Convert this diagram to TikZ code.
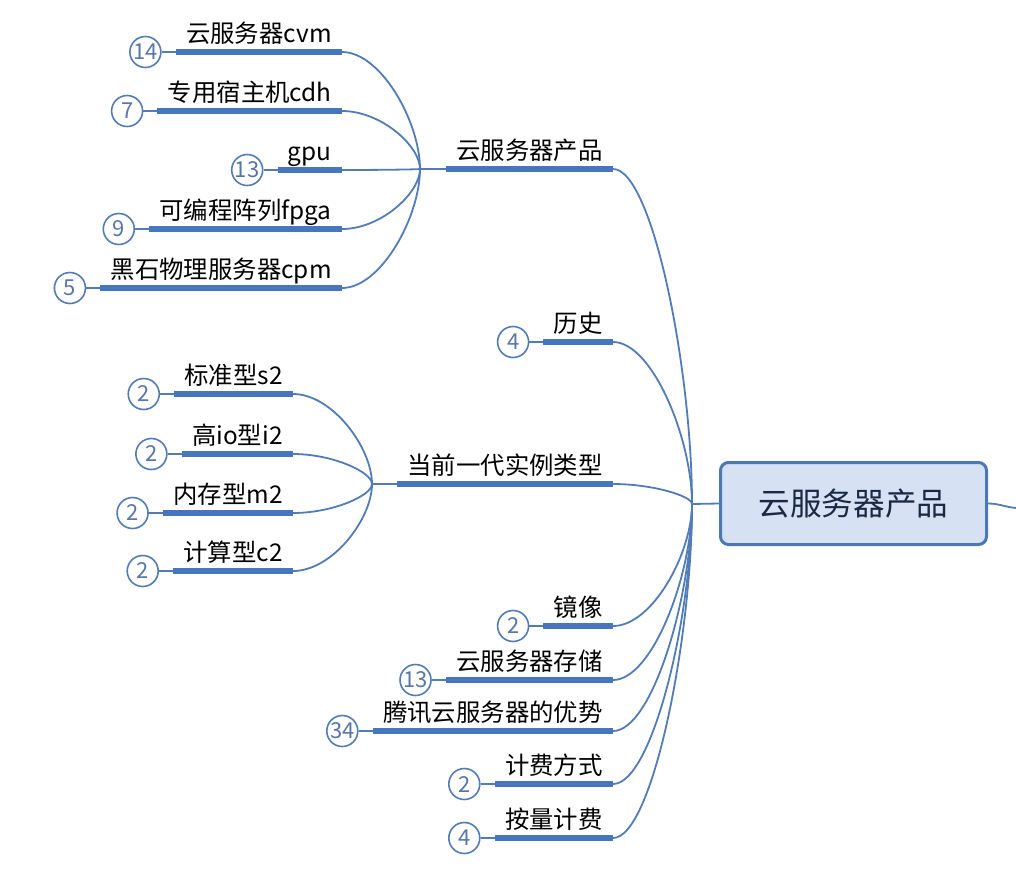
\documentclass[tikz,border=0pt]{standalone}
\usepackage{fontspec}
\setmainfont{Noto Sans CJK SC}
\usetikzlibrary{positioning,calc}

\definecolor{linkblue}{RGB}{82,124,184}
\definecolor{barblue}{RGB}{72,118,190}
\definecolor{rootfill}{RGB}{214,226,243}
\definecolor{rootdraw}{RGB}{74,119,181}
\definecolor{roottext}{RGB}{28,40,65}
\definecolor{numtext}{RGB}{88,118,168}

\tikzset{
  link/.style={draw=linkblue, line width=0.9pt},
  bar/.style={draw=barblue, line width=2.8pt},
  topic/.style={anchor=south east, inner xsep=5pt, inner ysep=2.5pt,
    font=\fontsize{12.2}{14}\selectfont, text height=0.9em, text depth=0.2em},
  num/.style={circle, draw=linkblue, line width=0.8pt, fill=white,
    minimum size=15.5pt, inner sep=0pt, text=numtext,
    font=\fontsize{11}{11}\selectfont},
  root/.style={draw=rootdraw, fill=rootfill, line width=1.5pt,
    rounded corners=4pt, minimum width=133pt, minimum height=41pt,
    text=roottext, font=\fontsize{15.8}{18}\selectfont}
}

\begin{document}
\begin{tikzpicture}[x=0.5pt, y=-0.5pt]
\useasboundingbox (0,0) rectangle (1016,884);

% central topic
\node[root] (root) at (853.5,503.5) {云服务器产品};
\coordinate (hub) at (692,504);
\coordinate (rout) at (1016,508);
\draw[link] (hub) -- (root.west);
\draw[link] (root.east) to[out=0, in=175] (rout);

% first level
\node[topic] (l1) at (613,169) {云服务器产品};
\node[topic] (l3) at (613,484) {当前一代实例类型};
\foreach \nm/\y/\txt/\num in {l2/342/历史/4, l4/626/镜像/2,
    l5/680/云服务器存储/13, l6/731/腾讯云服务器的优势/34,
    l7/784/计费方式/2, l8/838/按量计费/4}
{
  \node[topic] (\nm) at (613,\y) {\txt};
  \node[num, left=7pt of \nm.south west] (c\nm) {\num};
  \draw[link] (c\nm) -- (\nm.south west);
}
\foreach \nm in {l1,l2,l3,l4,l5,l6,l7,l8}
{
  \draw[bar] (\nm.south west) -- (\nm.south east);
  \draw[link] (\nm.south east)
    .. controls ($(\nm.south east)!0.5!(hub|-\nm.south east)$)
    and ($(hub)!0.4!(hub|-\nm.south east)$) .. (hub);
}

% children of 云服务器产品
\coordinate (hubA) at (420,169);
\draw[link] (hubA) -- (l1.south west);
\foreach \nm/\y/\txt/\num in {a1/52/云服务器cvm/14, a2/111/专用宿主机cdh/7,
    a3/170/gpu/13, a4/229/可编程阵列fpga/9, a5/288/黑石物理服务器cpm/5}
{
  \node[topic] (\nm) at (342,\y) {\txt};
  \node[num, left=7pt of \nm.south west] (c\nm) {\num};
  \draw[link] (c\nm) -- (\nm.south west);
  \draw[bar] (\nm.south west) -- (\nm.south east);
  \draw[link] (\nm.south east)
    .. controls ($(\nm.south east)!0.5!(hubA|-\nm.south east)$)
    and ($(hubA)!0.4!(hubA|-\nm.south east)$) .. (hubA);
}

% children of 当前一代实例类型
\coordinate (hubB) at (372,484);
\draw[link] (hubB) -- (l3.south west);
\foreach \nm/\y/\txt/\num in {b1/394/标准型s2/2, b2/454/高io型i2/2,
    b3/513/内存型m2/2, b4/571/计算型c2/2}
{
  \node[topic] (\nm) at (293,\y) {\txt};
  \node[num, left=7pt of \nm.south west] (c\nm) {\num};
  \draw[link] (c\nm) -- (\nm.south west);
  \draw[bar] (\nm.south west) -- (\nm.south east);
  \draw[link] (\nm.south east)
    .. controls ($(\nm.south east)!0.5!(hubB|-\nm.south east)$)
    and ($(hubB)!0.4!(hubB|-\nm.south east)$) .. (hubB);
}

\end{tikzpicture}
\end{document}
